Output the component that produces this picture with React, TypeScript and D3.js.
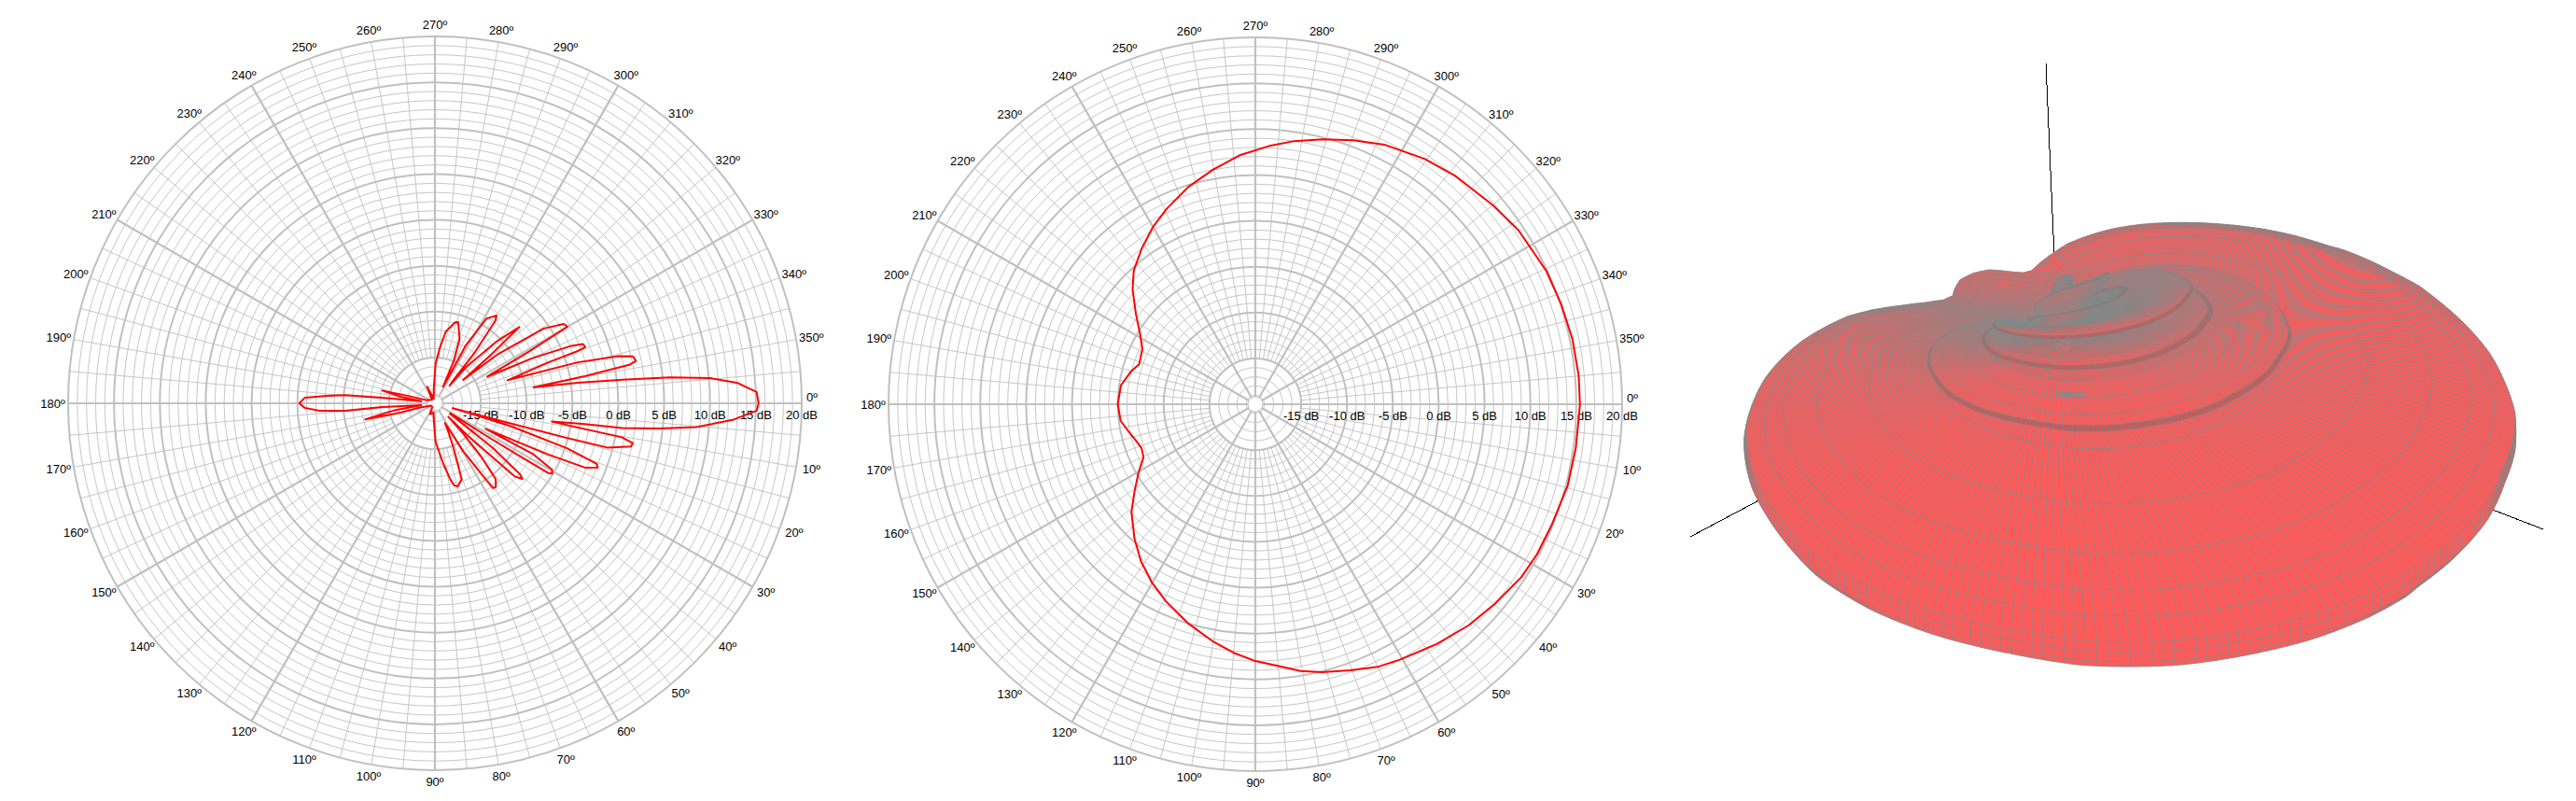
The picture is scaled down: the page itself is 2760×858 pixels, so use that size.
import React, { useEffect, useRef } from 'react';
import * as d3 from 'd3';

// Left pattern: angle (deg) and gain (dB), in drawing order
const leftAngles = [0,1.3,3.2,5.2,6.4,7.5,7.9,8.9,10.3,11.4,12.4,14.4,14.7,15,15.5,16,16.8,18.8,20.5,21.5,23.2,24.3,26.7,27.4,29.6,30.9,31.6,31.9,32.3,33,35,36.5,37.7,39.8,40.9,42.5,43.3,44.5,45.2,47,49.1,51.3,54,55.6,56.3,59.4,63,65,67,69.3,70.7,74.6,76.8,78.5,82.3,89,94,100,114,125,150,164.5,165,167,170,172,174.5,176,175.2,176.3,178,180,182.5,184,185.2,186,189,190.8,193.6,195.5,200,230,245,255,265,271,274.9,278.6,284,286,291,294,296,297.6,298,301.3,305,306.2,308,308.6,310,310.7,315,317.9,319.1,320.3,322,325.5,328.4,330,331.2,333,335.2,337.1,338.2,339.5,339.9,340.2,342.4,344,345.6,346.7,348.1,348.8,349.7,350.9,351.8,352.8,353.7,354.8,356.1,358,360];
const leftDb = [15.3,15.1,12.5,8.6,4.6,0.6,-3.5,-7.1,0.7,2,1.9,-0.6,-5.2,-12,-18,-16,-11.3,-4.8,-1.2,-0.9,-2.2,-6.5,-13.8,-7.9,-5.3,-5.1,-5.5,-8.8,-13,-18,-18,-16,-12,-7.9,-7.4,-8.2,-11.9,-15,-17.9,-15.5,-12.2,-9.4,-8.7,-8.8,-10.1,-13.9,-17.6,-16.5,-15,-13,-11.2,-10.6,-10.8,-11.5,-13.4,-15.8,-18.2,-19,-18.7,-19.5,-19.5,-18.2,-16.1,-12.2,-15.4,-18.5,-17,-14.2,-10.2,-7.4,-5.8,-5.2,-5.8,-8.2,-10.2,-14.2,-18.5,-16.2,-14.1,-17,-19,-19.5,-18,-19.5,-18.5,-15.7,-14,-12.1,-10.9,-10.8,-12.5,-15,-18,-16.3,-12.9,-9.2,-8.3,-8.8,-12.9,-16.7,-17.5,-14.8,-10.4,-7.6,-11.9,-16,-11.4,-5.6,-3.5,-3.3,-8.4,-13.6,-8.2,-4,-2.6,-2.5,-3.4,-6.9,-11.7,-3.8,0.65,2.2,2.4,1.6,-3.3,-9.1,-4.3,0.6,5.8,10.2,13,15.1,15.3];

// Right pattern: angle (deg) and gain (dB)
const rightAngles = [0,2.3,7.8,14.6,22,28,33,39.8,46,52.8,60.5,64.9,70.4,76,80.4,82.9,90,95,100,107,114.4,120,126,132,139,144,149.5,154.6,159,163,167.5,173,180,188,195,199,206,211.7,217,223,227.7,233.8,239.9,245.6,252.9,259.8,266.4,273.1,278.4,284.2,290.4,296.4,304.6,311.3,320.1,326.5,335.4,342,348.4,355,360];
const rightDb = [15.4,15.3,15.27,15.2,14.9,14.8,14.6,14,13.5,12.8,12,11.6,10.8,10.1,9.5,9,8,7.2,6.3,5,3.6,2.5,1.2,-0.3,-2.1,-3.7,-5.2,-6.5,-6.7,-6.4,-5.9,-5.2,-5,-5.2,-6,-6.6,-6.3,-5.2,-3.7,-1.7,-0.3,1,2.3,3.4,4.8,6,7.2,8.2,9,9.8,10.7,11.6,12.5,13.1,13.8,14.4,14.9,15.1,15.3,15.4,15.4];

const dbTicks = [-15,-10,-5,0,5,10,15,20];
const minorDb = d3.range(-19,20).filter(d => (d + 20) % 5 !== 0);
const angleTicks = d3.range(0,360,10);
const minorAngles = d3.range(0,360,5);
const majorAngles = d3.range(0,360,30);

const GRID = '#c0c0c0';
const R_OUT = 393;
const r = d3.scaleLinear().domain([-20,20]).range([0,R_OUT]);
const pt = (a:number, db:number):[number,number] => {
  const t = a*Math.PI/180; const v = r(Math.max(db,-20));
  return [v*Math.cos(t), v*Math.sin(t)];
};
const lineGen = d3.line();

function Polar({cx,cy,angles,values}:{cx:number,cy:number,angles:number[],values:number[]}) {
  const path = lineGen(angles.map((a,i)=>pt(a,values[i])))!;
  return <g transform={`translate(${cx},${cy})`} fontFamily="'Liberation Sans', Arial, sans-serif" fontSize={13} fill="#000">
    {minorDb.map(d=><circle key={d} r={r(d)} fill="none" stroke={GRID} strokeWidth={0.9}/>)}
    {dbTicks.map(d=><circle key={d} r={r(d)} fill="none" stroke={GRID} strokeWidth={2}/>)}
    {minorAngles.filter(a=>a%30!==0).map(a=>{const [x1,y1]=pt(a,-15);const [x2,y2]=pt(a,20);
      return <line key={a} x1={x1} y1={y1} x2={x2} y2={y2} stroke={GRID} strokeWidth={0.9}/>})}
    {majorAngles.map(a=>{const t=a*Math.PI/180;
      return <line key={a} x1={8*Math.cos(t)} y1={8*Math.sin(t)} x2={R_OUT*Math.cos(t)} y2={R_OUT*Math.sin(t)} stroke={GRID} strokeWidth={2.2}/>})}
    <circle r={8} fill="#fff" stroke={GRID} strokeWidth={1}/>
    <g opacity={0.999}>
      {dbTicks.map(d=><text key={d} x={r(d)} y={16.5} textAnchor="middle">{d} dB</text>)}
      {angleTicks.map(a=>{const t=a*Math.PI/180;
        const ex=R_OUT*Math.cos(t), ey=R_OUT*Math.sin(t);
        const ox=a===0?11:16.5*Math.cos(t), oy=a===0?-7:12.5*Math.sin(t);
        return <text key={a} x={ex+ox} y={ey+oy+4.5} textAnchor="middle">{a}º</text>})}
    </g>
    <path d={path} fill="none" stroke="#ff0000" strokeWidth={2} strokeLinejoin="round"/>
  </g>;
}

// 3D balloon, built from the two read patterns
const leftSorted = d3.range(leftAngles.length).sort((a,b)=>leftAngles[a]-leftAngles[b]);
const leftLookup = d3.scaleLinear().domain(leftSorted.map(i=>leftAngles[i])).range(leftSorted.map(i=>leftDb[i])).clamp(true);
const rightLookup = d3.scaleLinear().domain(rightAngles).range(rightDb).clamp(true);
const rightPeak = 15.4;
const radius3d = d3.scalePow().exponent(1.3).domain([0,35.4]).range([0,490]).clamp(true);
const shade = d3.scaleLinear<string>().domain([0,0.35]).range(['#9c6e6e','#ff5a5a']).clamp(true);

const OX=2200, OY=358, ELEV=31.5*Math.PI/180, BETA=36*Math.PI/180, DIST=1350;
const axisOrigin:[number,number]=[2205,366];
const axisEnds:[number,number][] = [[2192,68],[1811,575],[2725,567]];

const elGain=(el:number)=>leftLookup((360-el+360)%360);
function isCrest(el:number){
  return el>=9 && el<70 && elGain(el)>=elGain(el-1) && elGain(el)>=elGain(el+1);
}

function project(el:number, az:number){
  const e=el*Math.PI/180, a=az*Math.PI/180;
  const db=elGain(el)+rightLookup(az%360)-rightPeak;
  const R=radius3d(Math.max(db+20,0));
  const gx=R*Math.cos(e)*Math.sin(a+BETA), gy=R*Math.cos(e)*Math.cos(a+BETA), z=R*Math.sin(e);
  const depth=gy*Math.cos(ELEV)+z*Math.sin(ELEV);
  const p=DIST/(DIST-depth);
  return {x:OX+gx*p, y:OY-(z*Math.cos(ELEV)-gy*Math.sin(ELEV))*p, depth, R, gx, gy, z, p};
}

function Balloon(){
  const ref=useRef<SVGGElement>(null);
  useEffect(()=>{
    const els=d3.range(-25,90,1), azs=d3.range(0,360,1);
    const quads:{d:string,depth:number,front:boolean,facing:number,crest:boolean}[]=[];
    for(const el of els) for(const az of azs){
      const a=project(el,az),b=project(el,az+1),c=project(el+1,az+1),f=project(el+1,az);
      if(a.R+b.R+c.R+f.R<4) continue;
      const area=((b.x-a.x)*(c.y-a.y)-(c.x-a.x)*(b.y-a.y)+(c.x-a.x)*(f.y-a.y)-(f.x-a.x)*(c.y-a.y))/2;
      const ux=c.gx-a.gx, uy=c.gy-a.gy, uz=c.z-a.z, vx=f.gx-b.gx, vy=f.gy-b.gy, vz=f.z-b.z;
      const cx=uy*vz-uz*vy, cy=uz*vx-ux*vz, cz=ux*vy-uy*vx;
      const area3d=Math.hypot(cx,cy,cz)/2+1e-6;
      const facing=Math.abs(area)/(a.p*a.p)/area3d;
      quads.push({d:`M${a.x.toFixed(1)},${a.y.toFixed(1)}L${b.x.toFixed(1)},${b.y.toFixed(1)}L${c.x.toFixed(1)},${c.y.toFixed(1)}L${f.x.toFixed(1)},${f.y.toFixed(1)}Z`,
        depth:(a.depth+b.depth+c.depth+f.depth)/4, front:area<0, facing, crest:isCrest(el)});
    }
    quads.sort((p,q)=>p.depth-q.depth);
    d3.select(ref.current).selectAll('path').data(quads).join('path')
      .attr('d',q=>q.d)
      .attr('fill',q=>!q.front?'#8a8a8a':q.crest?'#c85a5a':shade(q.facing))
      .attr('stroke',q=>q.crest?'#7c8484':'#808c8c').attr('stroke-width',0.55);
  },[]);
  return <g>
    {axisEnds.map(([x,y],i)=><line key={i} x1={x} y1={y} x2={axisOrigin[0]} y2={axisOrigin[1]} stroke="#000" strokeWidth={1} shapeRendering="crispEdges"/>)}
    <g ref={ref}/>
  </g>;
}

export default function App(){
  return <svg width={2760} height={858} style={{position:'fixed',left:0,top:0,background:'#fff'}}>
    <Polar cx={466} cy={432} angles={leftAngles} values={leftDb}/>
    <Polar cx={1345} cy={433} angles={rightAngles} values={rightDb}/>
    <Balloon/>
  </svg>;
}
